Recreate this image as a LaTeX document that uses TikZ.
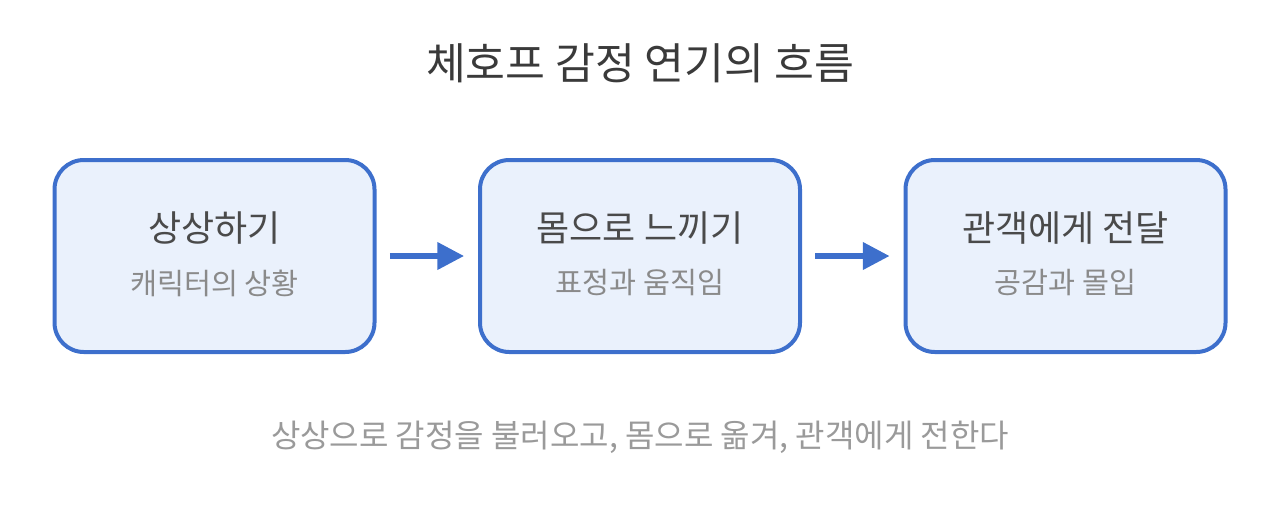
\documentclass[tikz,border=0pt]{standalone}
\usepackage{fontspec}
\setmainfont{Noto Sans CJK KR}
\usetikzlibrary{arrows.meta}
\definecolor{boxline}{HTML}{3D6FCC}
\definecolor{boxfill}{HTML}{EAF1FC}
\definecolor{titlec}{HTML}{3A3A3A}
\definecolor{headc}{HTML}{4A4A4A}
\definecolor{subc}{HTML}{8A8A8A}
\definecolor{notec}{HTML}{9A9A9A}
\tikzset{
  stepbox/.style={draw=boxline, fill=boxfill, line width=3pt, rounded corners=22pt,
    minimum width=240pt, minimum height=144pt, inner sep=0pt},
  head/.style={text=headc, font=\fontsize{27}{31}\selectfont, inner sep=0pt},
  sub/.style={text=subc, font=\fontsize{22}{26}\selectfont, inner sep=0pt},
  flow/.style={draw=boxline, line width=3.8pt, -{Triangle[length=20pt,width=20pt]}}
}
\begin{document}
\begin{tikzpicture}[x=0.75pt,y=-0.75pt]
\useasboundingbox (0,0) rectangle (1280,526);
\node[text=titlec, font=\fontsize{32.5}{38}\selectfont, inner sep=0pt] (title) at (640,63) {체호프 감정 연기의 흐름};
\node[stepbox] (b1) at (214.5,256) {};
\node[stepbox] (b2) at (640,256) {};
\node[stepbox] (b3) at (1065.5,256) {};
\node[head] (h1) at (214.5,228) {상상하기};
\node[sub] (s1) at (214.5,283) {캐릭터의 상황};
\node[head] (h2) at (640,228) {몸으로 느끼기};
\node[sub] (s2) at (640,283) {표정과 움직임};
\node[head] (h3) at (1065.5,228) {관객에게 전달};
\node[sub] (s3) at (1065.5,283) {공감과 몰입};
\draw[flow] ([xshift=10pt]b1.east) -- ([xshift=-10.5pt]b2.west);
\draw[flow] ([xshift=10pt]b2.east) -- ([xshift=-10.5pt]b3.west);
\node[text=notec, font=\fontsize{24}{28}\selectfont, inner sep=0pt] (note) at (640,437) {상상으로 감정을 불러오고, 몸으로 옮겨, 관객에게 전한다};
\end{tikzpicture}
\end{document}
